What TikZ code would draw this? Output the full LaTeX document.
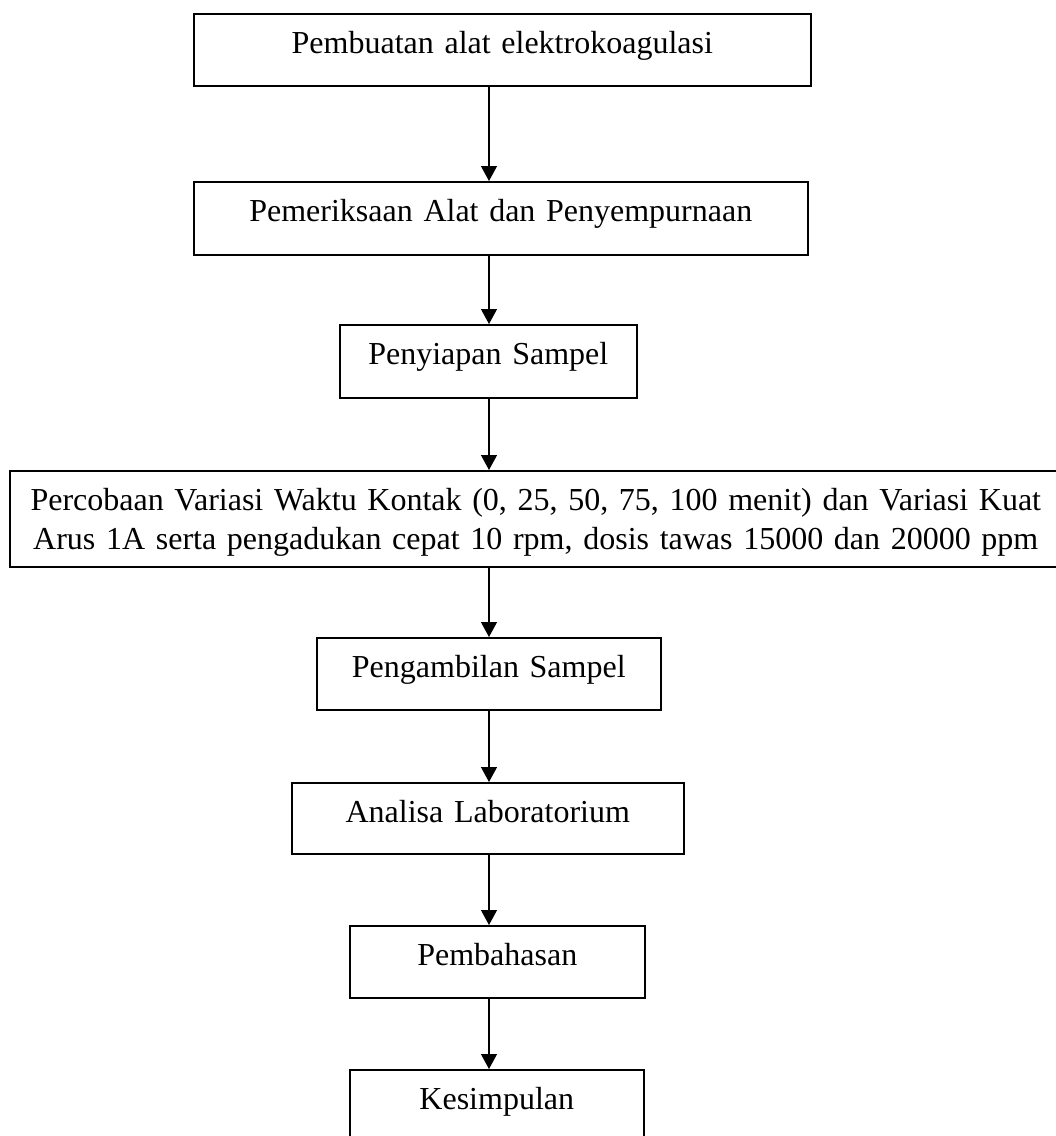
\documentclass[tikz,border=0pt]{standalone}
\usepackage{fontspec}
\setmainfont{Liberation Serif}
\usetikzlibrary{arrows.meta}
\begin{document}
\begin{tikzpicture}[x=1pt,y=-1pt,
  box/.style={draw=black, line width=1.6pt, inner sep=0pt, align=center, anchor=north west,
    font=\fontsize{32}{38.5}\selectfont, text height=40pt},
  arr/.style={line width=1.3pt, -{Triangle[width=16pt,length=15pt]}}]
\useasboundingbox (0,0) rectangle (1056,1136);
\clip (0,0) rectangle (1056,1136);
\fill[white] (0,0) rectangle (1056,1136);
\node[box, text width=617pt, text depth=32pt] (b1) at (193,13) {Pembuatan alat elektrokoagulasi};
\node[box, text width=614pt, text depth=33pt] (b2) at (193,181) {Pemeriksaan Alat dan Penyempurnaan};
\node[box, text width=297pt, text depth=33pt] (b3) at (339,324) {Penyiapan Sampel};
\node[box, text width=1052pt, text depth=56pt] (b4) at (9,470) {Percobaan Variasi Waktu Kontak (0, 25, 50, 75, 100 menit) dan Variasi Kuat\\Arus 1A serta pengadukan cepat 10 rpm, dosis tawas 15000 dan 20000 ppm};
\node[box, text width=344pt, text depth=32pt] (b5) at (316,637) {Pengambilan Sampel};
\node[box, text width=392pt, text depth=31pt] (b6) at (291,782) {Analisa Laboratorium};
\node[box, text width=295pt, text depth=32pt] (b7) at (349,925) {Pembahasan};
\node[box, text width=294pt, text depth=32pt] (b8) at (349,1069) {Kesimpulan};
\coordinate (ax) at (489,0);
\draw[arr] (b1.south -| ax) -- (b2.north -| ax);
\draw[arr] (b2.south -| ax) -- (b3.north -| ax);
\draw[arr] (b3.south -| ax) -- (b4.north -| ax);
\draw[arr] (b4.south -| ax) -- (b5.north -| ax);
\draw[arr] (b5.south -| ax) -- (b6.north -| ax);
\draw[arr] (b6.south -| ax) -- (b7.north -| ax);
\draw[arr] (b7.south -| ax) -- (b8.north -| ax);
\end{tikzpicture}
\end{document}
